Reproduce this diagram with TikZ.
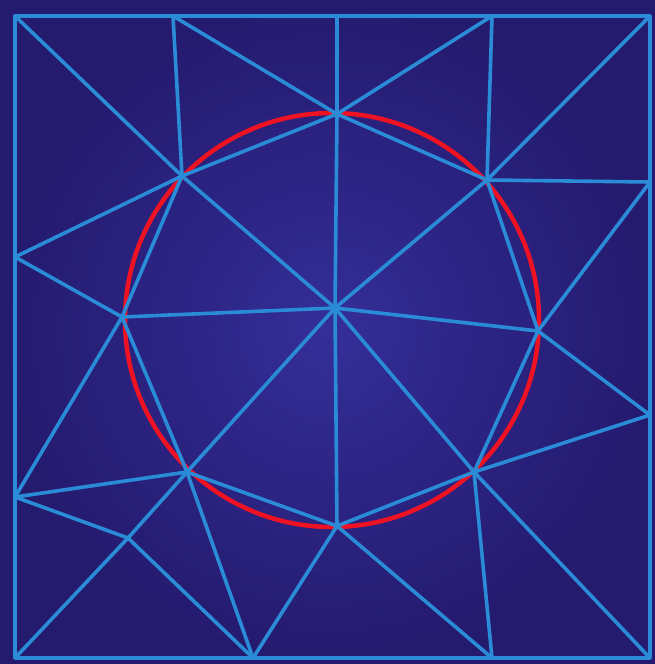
\documentclass[tikz,border=0pt]{standalone}
\begin{document}
\begin{tikzpicture}[x=1pt,y=-1pt,
  edge/.style={draw=meshblue,line width=3.6pt,line cap=round,line join=round},
  ring/.style={draw=ringred,line width=4.5pt}]
\definecolor{meshblue}{RGB}{42,140,214}
\definecolor{ringred}{RGB}{238,18,35}
\definecolor{bgin}{RGB}{52,46,152}
\definecolor{bgout}{RGB}{36,26,110}
\useasboundingbox (0,0) rectangle (655,664);
\shade[inner color=bgin,outer color=bgout] (0,0) rectangle (655,664);
% outer frame corners and edge points
\coordinate (TL) at (15,16);
\coordinate (TR) at (650,16);
\coordinate (BR) at (650,658);
\coordinate (BL) at (15,658);
\coordinate (T1) at (173,16);
\coordinate (T2) at (337,16);
\coordinate (T3) at (492,16);
\coordinate (R1) at (650,182);
\coordinate (R2) at (650,415);
\coordinate (B1) at (253,658);
\coordinate (B2) at (492,658);
\coordinate (L1) at (15,257);
\coordinate (L2) at (15,497);
% circle points
\coordinate (Ctop) at (337,114);
\coordinate (Cul) at (182,176);
\coordinate (Cl) at (122,317);
\coordinate (Cll) at (187,472);
\coordinate (Cb) at (337,526);
\coordinate (Clr) at (474,472);
\coordinate (Cr) at (538,331);
\coordinate (Cur) at (487,180);
\coordinate (M) at (335,308);
\coordinate (I) at (128,538);
\coordinate (O) at (332,320);
% red circle
\draw[ring] (O) circle (207);
% frame
\draw[edge] (TL) -- (TR) -- (BR) -- (BL) -- cycle;
% polygon chords
\draw[edge] (Ctop) -- (Cur) -- (Cr) -- (Clr) -- (Cb) -- (Cll) -- (Cl) -- (Cul) -- cycle;
% spokes
\foreach \p in {Ctop,Cul,Cl,Cll,Cb,Clr,Cr,Cur} \draw[edge] (M) -- (\p);
% outer triangulation
\draw[edge] (TL) -- (Cul);
\draw[edge] (T1) -- (Cul);
\draw[edge] (T1) -- (Ctop);
\draw[edge] (T2) -- (Ctop);
\draw[edge] (T3) -- (Ctop);
\draw[edge] (T3) -- (Cur);
\draw[edge] (TR) -- (Cur);
\draw[edge] (Cur) -- (R1);
\draw[edge] (R1) -- (Cr);
\draw[edge] (Cr) -- (R2);
\draw[edge] (Clr) -- (R2);
\draw[edge] (Clr) -- (BR);
\draw[edge] (Clr) -- (B2);
\draw[edge] (Cb) -- (B2);
\draw[edge] (Cb) -- (B1);
\draw[edge] (Cll) -- (B1);
\draw[edge] (I) -- (B1);
\draw[edge] (I) -- (BL);
\draw[edge] (I) -- (Cll);
\draw[edge] (L2) -- (I);
\draw[edge] (L2) -- (Cll);
\draw[edge] (L2) -- (Cl);
\draw[edge] (L1) -- (Cl);
\draw[edge] (L1) -- (Cul);
\end{tikzpicture}
\end{document}
